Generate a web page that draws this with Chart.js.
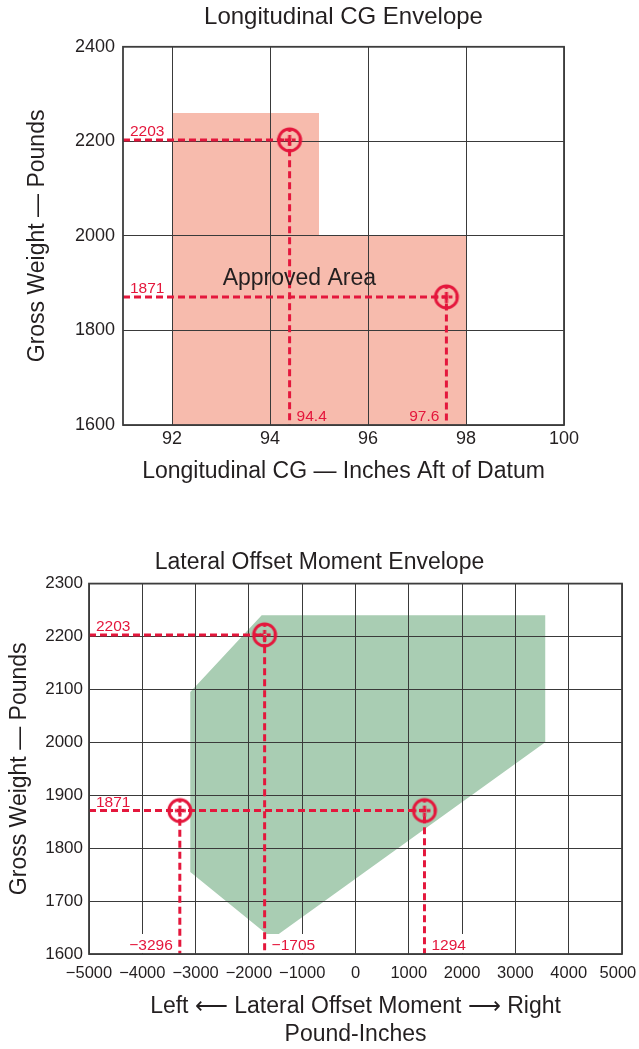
<!DOCTYPE html>
<html>
<head>
<meta charset="utf-8">
<title>Weight and Balance Envelopes</title>
<script src="https://cdn.jsdelivr.net/npm/chart.js@4.4.1/dist/chart.umd.min.js"></script>
<style>
  body { margin: 0; background: #fff; }
  canvas { display: block; }
</style>
</head>
<body>
<canvas id="cgChart" width="639" height="500"></canvas>
<canvas id="lateralChart" width="639" height="549"></canvas>
<script>
// Longitudinal CG envelope
const cgXTicks = [92, 94, 96, 98, 100];
const cgYTicks = [1600, 1800, 2000, 2200, 2400];
const cgEnvelopeX = [92, 92, 95, 95, 98, 98];
const cgEnvelopeY = [1600, 2260, 2260, 2000, 2000, 1600];
const cgPointX = [94.4, 97.6];
const cgPointY = [2203, 1871];

// Lateral offset moment envelope
const latXTicks = [-5000, -4000, -3000, -2000, -1000, 0, 1000, 2000, 3000, 4000, 5000];
const latYTicks = [1600, 1700, 1800, 1900, 2000, 2100, 2200, 2300];
const latEnvelopeX = [-1760, 3560, 3560, -1440, -1670, -3100, -3100];
const latEnvelopeY = [2240, 2240, 2000, 1638, 1638, 1755, 2095];
const latPointX = [-1705, -3296, 1294];
const latPointY = [2203, 1871, 1871];

const FONT = "'Liberation Sans', Arial, Helvetica, sans-serif";
const INK = '#231f20';
const GRID = '#3a3a3a';
const RED = '#e4173c';
const PINK = '#f7bbad';
const GREEN = '#a9cdb3';

function fmt(v) {
    return v < 0 ? '\u2212' + Math.abs(v) : String(v);
}

// circle with a dashed cross hair, used as the point style
function targetMarker() {
    const c = document.createElement('canvas');
    c.width = 30;
    c.height = 30;
    const g = c.getContext('2d');
    g.strokeStyle = RED;
    g.lineWidth = 3;
    g.beginPath();
    g.arc(15, 15, 11, 0, Math.PI * 2);
    g.stroke();
    g.setLineDash([4, 3]);
    g.beginPath();
    g.moveTo(15, 3);
    g.lineTo(15, 27);
    g.moveTo(3, 15);
    g.lineTo(27, 15);
    g.stroke();
    return c;
}
const marker = targetMarker();

function toPoints(xs, ys) {
    return xs.map((x, i) => ({ x: x, y: ys[i] }));
}

// dashed reading lines: from the weight axis to the point, then down to the moment axis
function guideSets(xs, ys, xMin, yMin) {
    return xs.map((px, i) => ({
        data: [{ x: xMin, y: ys[i] }, { x: px, y: ys[i] }, { x: px, y: yMin }],
        borderColor: RED,
        borderWidth: 3,
        borderDash: [7, 4],
        pointRadius: 0,
        fill: false,
        order: 2
    }));
}

function envelopeSet(xs, ys, color) {
    return {
        data: toPoints(xs, ys),
        fill: 'shape',
        backgroundColor: color,
        borderColor: 'transparent',
        borderWidth: 0,
        pointRadius: 0,
        order: 3
    };
}

function markerSet(xs, ys) {
    return {
        data: toPoints(xs, ys),
        showLine: false,
        pointStyle: marker,
        pointRadius: 12,
        pointHoverRadius: 12,
        order: 1
    };
}

// red value labels next to the reading lines
function guideLabels(cfg) {
    return {
        id: 'guideLabels',
        afterDatasetsDraw(chart) {
            const { ctx, scales: { x, y } } = chart;
            ctx.save();
            ctx.font = cfg.font;
            ctx.textBaseline = 'alphabetic';
            ctx.textAlign = 'left';
            ctx.fillStyle = RED;
            const weights = [...new Set(cfg.weights)];
            weights.forEach(w => {
                ctx.fillText(String(w), x.left + 7, y.getPixelForValue(w) - 4);
            });
            cfg.readings.forEach((v, i) => {
                const text = fmt(v);
                const px = x.getPixelForValue(v);
                const tw = ctx.measureText(text).width;
                const tx = cfg.sides[i] === 'left' ? px - 7 - tw : px + 7;
                const ty = y.bottom - 4;
                if (cfg.boxed) {
                    ctx.fillStyle = '#fff';
                    ctx.fillRect(tx - 2, ty - 16, tw + 4, y.bottom - ty + 15);
                    ctx.fillStyle = RED;
                }
                ctx.fillText(text, tx, ty);
            });
            if (cfg.note) {
                ctx.font = cfg.note.font;
                ctx.fillStyle = INK;
                ctx.textAlign = 'center';
                ctx.textBaseline = 'middle';
                ctx.fillText(cfg.note.text, x.getPixelForValue(cfg.note.x), y.getPixelForValue(cfg.note.y));
            }
            ctx.restore();
        }
    };
}

// heavier outline round the plot area
const frame = {
    id: 'frame',
    afterDraw(chart) {
        const { ctx, chartArea: a } = chart;
        ctx.save();
        ctx.strokeStyle = '#3d3d3d';
        ctx.lineWidth = 1.8;
        ctx.strokeRect(a.left, a.top, a.right - a.left, a.bottom - a.top);
        ctx.restore();
    }
};

function fixedTicks(values) {
    return scale => { scale.ticks = values.map(v => ({ value: v })); };
}

const commonOptions = {
    responsive: false,
    maintainAspectRatio: false,
    animation: false,
    events: [],
    devicePixelRatio: 1
};

// Longitudinal CG Envelope
new Chart(document.getElementById('cgChart'), {
    type: 'line',
    data: {
        datasets: [
            envelopeSet(cgEnvelopeX, cgEnvelopeY, PINK),
            ...guideSets(cgPointX, cgPointY, 91, 1600),
            markerSet(cgPointX, cgPointY)
        ]
    },
    options: {
        ...commonOptions,
        layout: { padding: { left: 0, right: 75, top: 0, bottom: 0 } },
        plugins: {
            legend: { display: false },
            tooltip: { enabled: false },
            filler: { drawTime: 'beforeDraw' },
            title: {
                display: true,
                text: 'Longitudinal CG Envelope',
                fullSize: false,
                color: INK,
                font: { family: FONT, size: 24, weight: 'normal' },
                padding: { top: 3, bottom: 15 }
            }
        },
        scales: {
            x: {
                type: 'linear',
                min: 91,
                max: 100,
                afterBuildTicks: fixedTicks(cgXTicks),
                afterFit: s => { s.height = 75; },
                grid: { color: GRID, lineWidth: 1, drawTicks: false },
                border: { display: false },
                ticks: {
                    color: INK,
                    padding: 3,
                    maxRotation: 0,
                    font: { family: FONT, size: 18 },
                    callback: v => fmt(v)
                },
                title: {
                    display: true,
                    text: 'Longitudinal CG \u2014 Inches Aft of Datum',
                    color: INK,
                    font: { family: FONT, size: 23 },
                    padding: { top: 0, bottom: 15 }
                }
            },
            y: {
                type: 'linear',
                min: 1600,
                max: 2400,
                afterBuildTicks: fixedTicks(cgYTicks),
                afterFit: s => { s.width = 123; },
                grid: { color: GRID, lineWidth: 1, drawTicks: false },
                border: { display: false },
                ticks: {
                    color: INK,
                    padding: 8,
                    font: { family: FONT, size: 18 },
                    callback: v => fmt(v)
                },
                title: {
                    display: true,
                    text: 'Gross Weight \u2014 Pounds',
                    color: INK,
                    font: { family: FONT, size: 23 },
                    padding: { top: 24, bottom: 0 }
                }
            }
        }
    },
    plugins: [
        guideLabels({
            font: '15.5px ' + FONT,
            weights: cgPointY,
            readings: cgPointX,
            sides: ['right', 'left'],
            boxed: false,
            note: { text: 'Approved Area', x: 94.6, y: 1910, font: '23px ' + FONT }
        }),
        frame
    ]
});

// Lateral Offset Moment Envelope
new Chart(document.getElementById('lateralChart'), {
    type: 'line',
    data: {
        datasets: [
            envelopeSet(latEnvelopeX, latEnvelopeY, GREEN),
            ...guideSets(latPointX, latPointY, -5000, 1600),
            markerSet(latPointX, latPointY)
        ]
    },
    options: {
        ...commonOptions,
        layout: { padding: 0 },
        plugins: {
            legend: { display: false },
            tooltip: { enabled: false },
            filler: { drawTime: 'beforeDraw' },
            title: {
                display: true,
                text: 'Lateral Offset Moment Envelope',
                color: INK,
                font: { family: FONT, size: 23, weight: 'normal' },
                padding: { top: 49, bottom: 7 }
            }
        },
        scales: {
            x: {
                type: 'linear',
                min: -5000,
                max: 5000,
                afterBuildTicks: fixedTicks(latXTicks),
                afterFit: s => { s.height = 95; s.paddingRight = 17; },
                grid: { color: GRID, lineWidth: 1, drawTicks: false },
                border: { display: false },
                ticks: {
                    color: INK,
                    padding: 10,
                    maxRotation: 0,
                    minRotation: 0,
                    autoSkip: false,
                    font: { family: FONT, size: 16.5 },
                    // the last label is nudged in so it stays inside the page
                    callback: (v, i, all) => fmt(v) + (i === all.length - 1 ? '\u2002' : '')
                },
                title: {
                    display: true,
                    text: ['Left \u27F5 Lateral Offset Moment \u27F6 Right', 'Pound-Inches'],
                    color: INK,
                    font: { family: FONT, size: 23, lineHeight: 1.22 },
                    padding: { top: 0, bottom: 0 }
                }
            },
            y: {
                type: 'linear',
                min: 1600,
                max: 2300,
                afterBuildTicks: fixedTicks(latYTicks),
                afterFit: s => { s.width = 89; },
                grid: { color: GRID, lineWidth: 1, drawTicks: false },
                border: { display: false },
                ticks: {
                    color: INK,
                    padding: 6,
                    font: { family: FONT, size: 17 },
                    callback: v => fmt(v)
                },
                title: {
                    display: true,
                    text: 'Gross Weight \u2014 Pounds',
                    color: INK,
                    font: { family: FONT, size: 23 },
                    padding: { top: 6, bottom: 0 }
                }
            }
        }
    },
    plugins: [
        guideLabels({
            font: '15.5px ' + FONT,
            weights: latPointY,
            readings: latPointX,
            sides: ['right', 'left', 'right'],
            boxed: true
        }),
        frame
    ]
});
</script>
</body>
</html>
